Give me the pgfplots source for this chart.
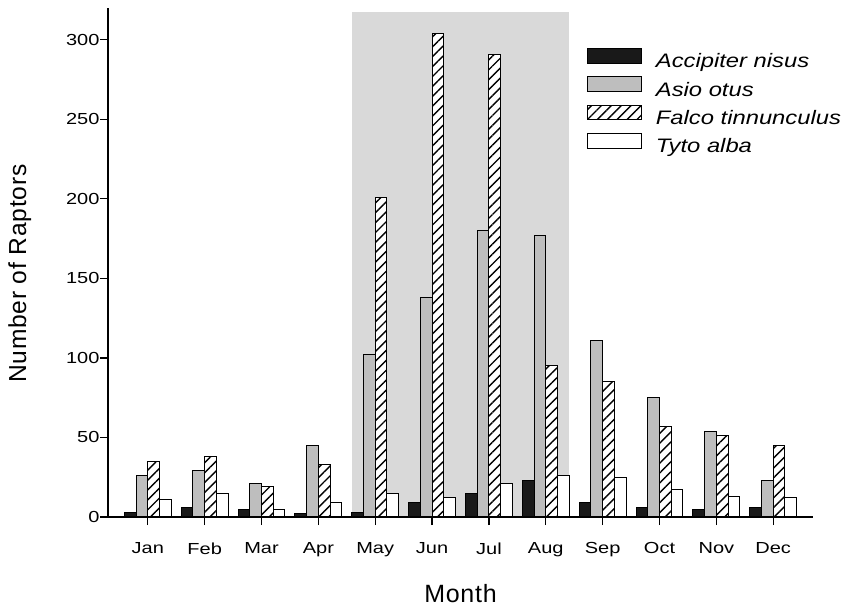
\documentclass[border=0pt]{standalone}
\usepackage{fontspec}
\setmainfont{Liberation Sans}
\newfontfamily\tickfont[FakeStretch=1.25]{Liberation Sans}
\newfontfamily\legfont[FakeStretch=1.22]{Liberation Sans}
\newfontfamily\labfont[LetterSpace=3]{Liberation Sans}
\usepackage{pgfplots}
\usepackage{pgfplotstable}
\pgfplotsset{compat=1.18}
\usetikzlibrary{patterns.meta}
\definecolor{shadegrey}{RGB}{217,217,217}
\definecolor{bargrey}{RGB}{190,190,190}
\definecolor{barblack}{RGB}{25,25,25}
\pgfplotsset{boxlegend/.style={legend image code/.code={\draw[##1] (0pt,0pt) rectangle (54pt,14.5pt);}}}

\pgfplotstableread{
m  acc  asio falco tyto
0  3    26   35    11
1  6    29   38    15
2  5    21   19    5
3  2    45   33    9
4  3    102  201   15
5  9    138  304   12
6  15   180  291   21
7  23   177  95    26
8  9    111  85    25
9  6    75   57    17
10 5    54   51    13
11 6    23   45    12
}\datatable

\begin{document}
\begin{tikzpicture}
\path[use as bounding box] (0pt,0pt) rectangle (843pt,608pt);
\begin{axis}[
  at={(108pt,91pt)}, anchor=south west,
  scale only axis, width=705pt, height=509pt,
  xmin=-0.7, xmax=11.7, ymin=0, ymax=320,
  axis lines*=left,
  axis on top,
  ybar=0pt, bar width=11.7pt,
  xtick={0,...,11},
  xticklabels={Jan,Feb,Mar,Apr,May,Jun,Jul,Aug,Sep,Oct,Nov,Dec},
  ytick={0,50,...,300},
  tick align=outside, major tick length=8pt,
  tick style={black, line width=1.2pt},
  axis line style={line width=1.2pt},
  /pgf/number format/assume math mode=true,
  tick label style={font=\tickfont\fontsize{16}{19}\selectfont},
  xticklabel style={yshift=-14pt},
  yticklabel style={xshift=3pt},
  xlabel={Month}, ylabel={Number of Raptors},
  every axis x label/.style={at={(axis description cs:0.5,-0.151)}, anchor=center, font=\labfont\fontsize{25}{30}\selectfont},
  every axis y label/.style={at={(axis description cs:-0.125,0.478)}, rotate=90, anchor=center, font=\labfont\fontsize{24.6}{30}\selectfont},
  legend cell align=left,
  legend style={draw=none, fill=none, inner sep=0pt, at={(axis description cs:0.679,0.9218)}, anchor=north west,
    font=\legfont\itshape\fontsize{19.5}{22}\selectfont,
    nodes={inner sep=0pt, text height=14.5pt, text depth=5pt},
    row sep=3.6pt,
    /tikz/every odd column/.append style={column sep=14pt}},
]
\fill[shadegrey] (axis cs:3.59,0) rectangle (axis cs:7.41,317.6);
\addplot[boxlegend, draw=black, line width=1pt, fill=barblack] table[x=m,y=acc] {\datatable};
\addplot[boxlegend, draw=black, line width=1pt, fill=bargrey] table[x=m,y=asio] {\datatable};
\addplot[boxlegend, draw=black, line width=1pt, fill=white, postaction={pattern={Lines[angle=45,distance=7pt,line width=1.4pt]}}] table[x=m,y=falco] {\datatable};
\addplot[boxlegend, draw=black, line width=1pt, fill=white] table[x=m,y=tyto] {\datatable};
\legend{Accipiter nisus, Asio otus, Falco tinnunculus, Tyto alba}
\end{axis}
\end{tikzpicture}
\end{document}
